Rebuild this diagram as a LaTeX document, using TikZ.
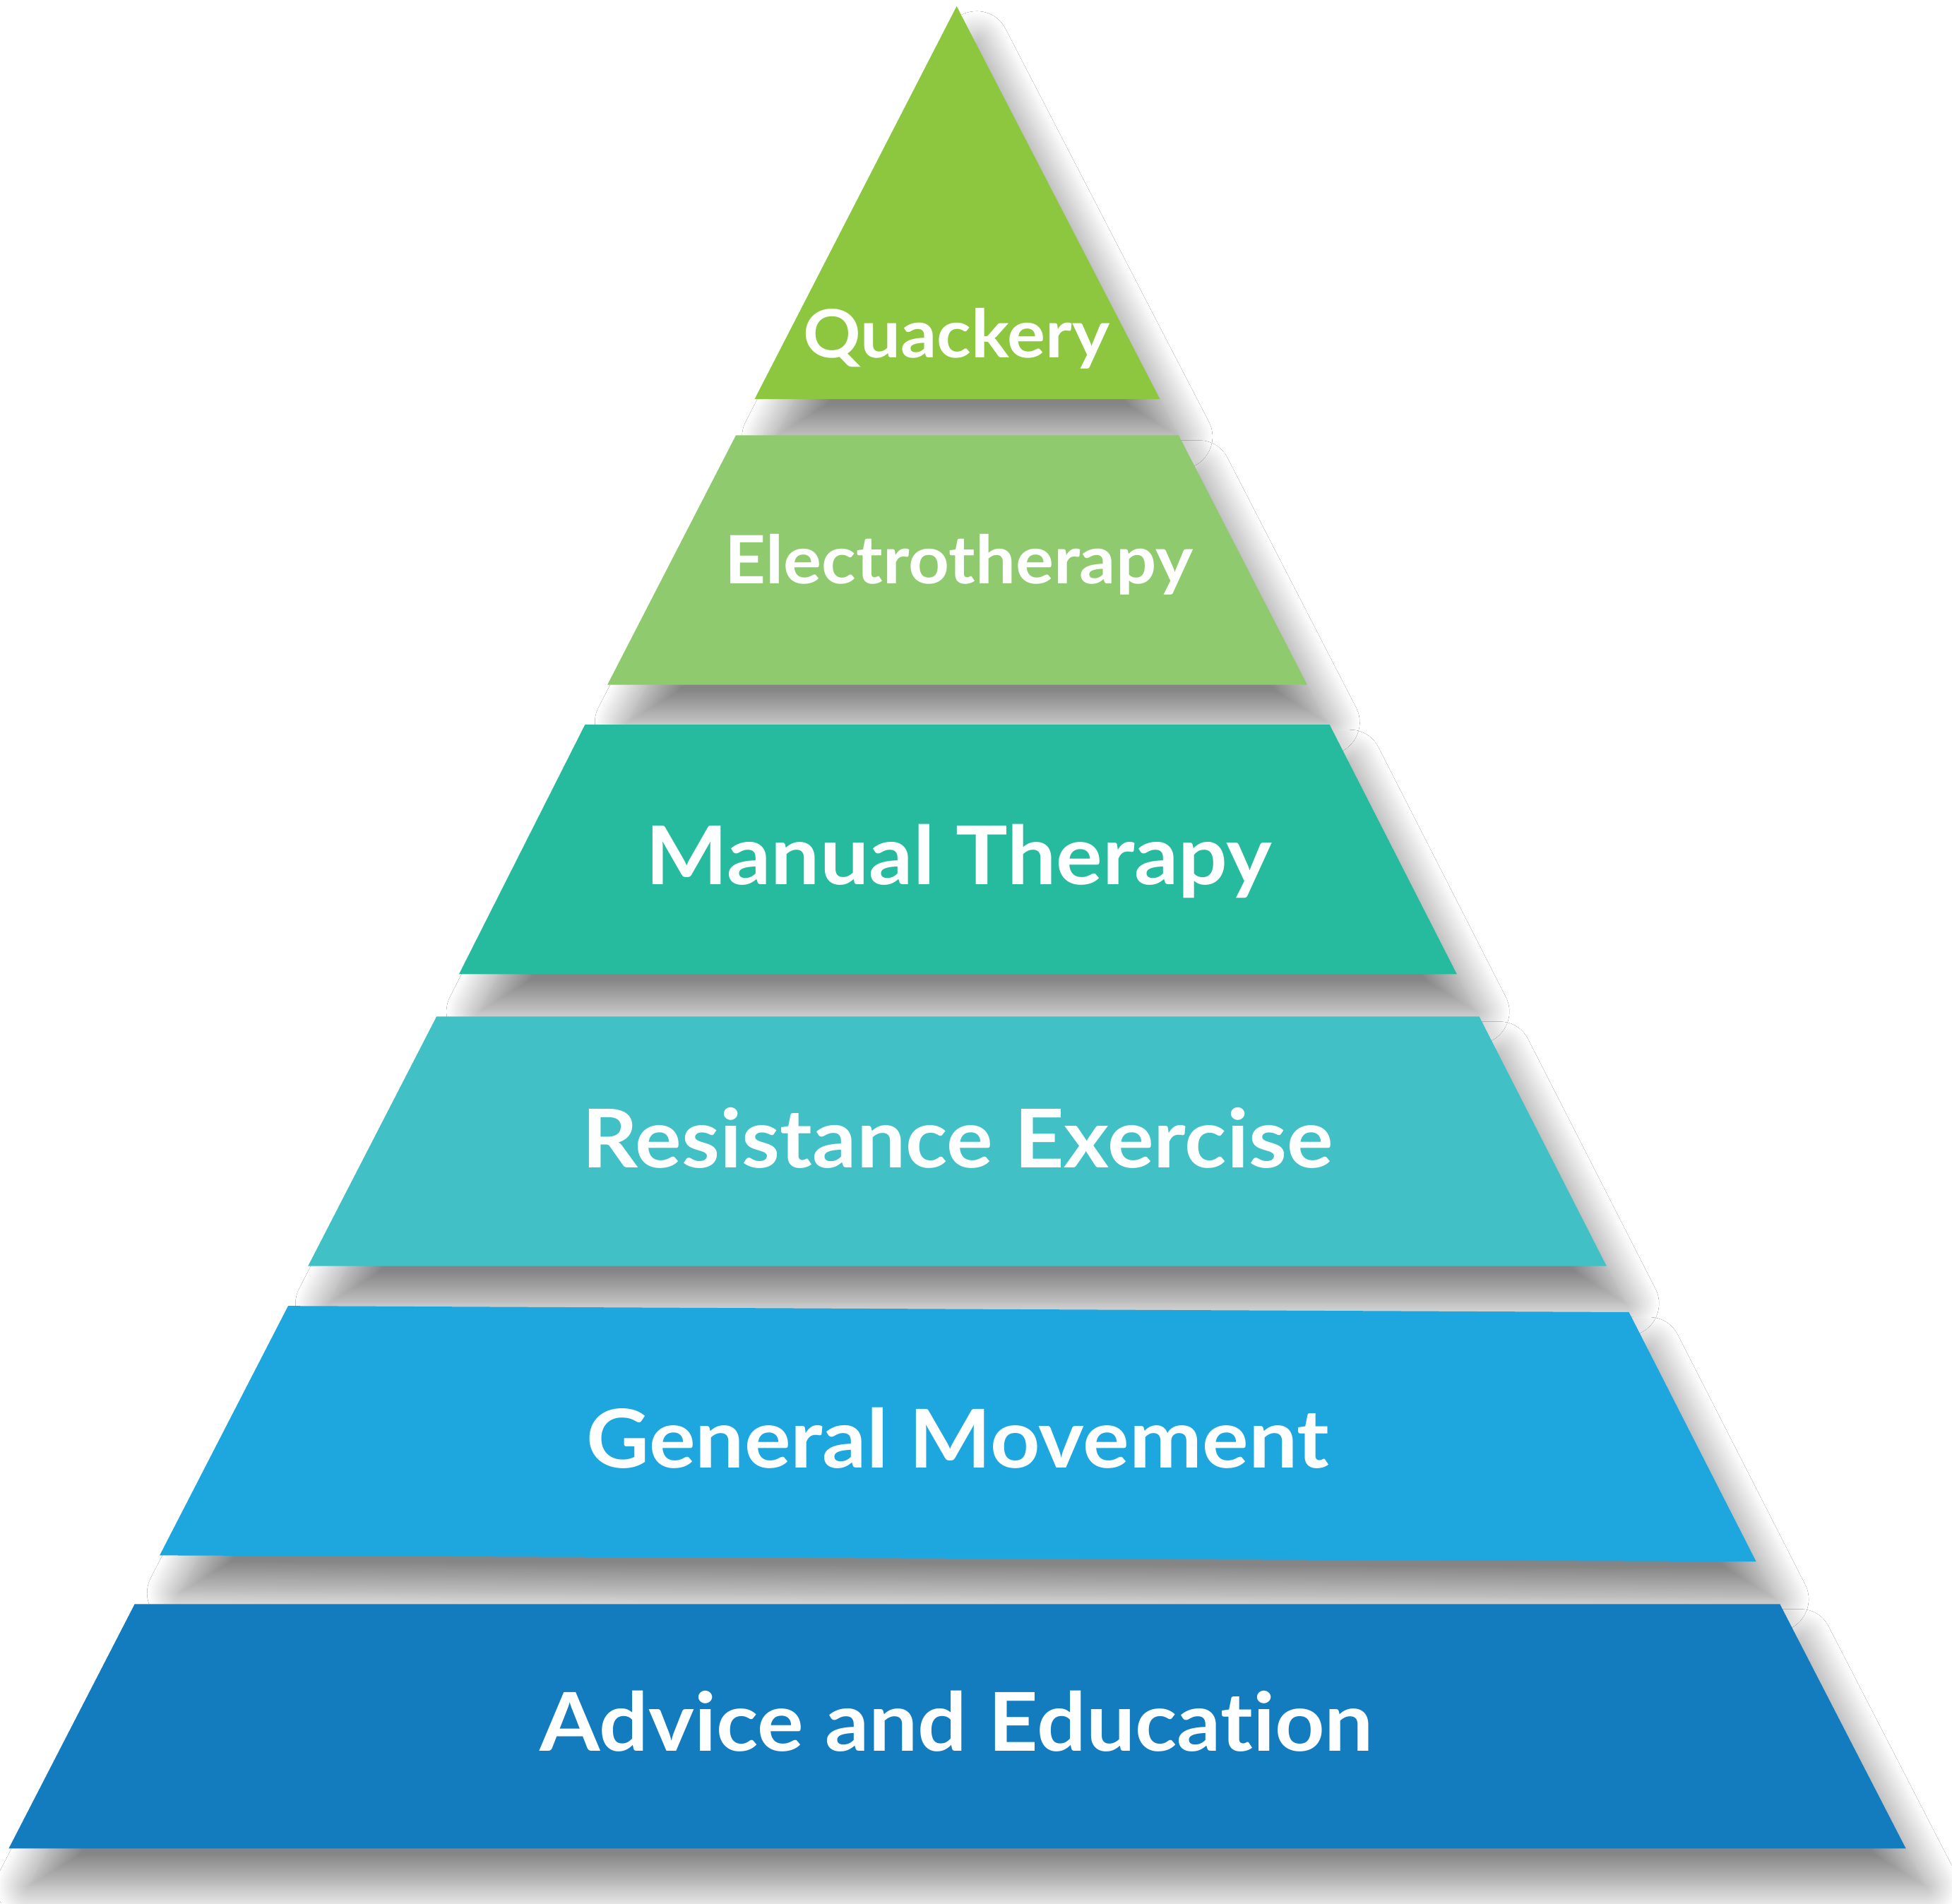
\documentclass[tikz,border=0pt]{standalone}
\usepackage{fontspec}
\setmainfont{Lato}
\newfontfamily\tierfont[FakeStretch=1.07, Ligatures=NoCommon]{Lato}
\usetikzlibrary{shadows, shadows.blur}

\definecolor{quackgreen}{HTML}{8DC63F}
\definecolor{electrogreen}{HTML}{8FCA6E}
\definecolor{manualteal}{HTML}{26BA9F}
\definecolor{resistteal}{HTML}{41C0C6}
\definecolor{movecyan}{HTML}{1EA7DE}
\definecolor{adviceblue}{HTML}{137CBF}

\tikzset{
  tier/.style={blur shadow={shadow xshift=1.6mm, shadow yshift=-3mm,
      shadow blur radius=2.6mm, shadow blur steps=24, shadow opacity=48}},
  biglabel/.style={text=white, anchor=base, inner sep=0pt,
      font=\tierfont\bfseries\fontsize{18.5}{18.5}\selectfont},
  smalllabel/.style={biglabel, font=\tierfont\bfseries\fontsize{15.2}{15.2}\selectfont}
}

\begin{document}
\begin{tikzpicture}[x=0.01cm, y=-0.01cm]
    \useasboundingbox (0,0) rectangle (1565,1526);
    \fill[white] (0,0) rectangle (1565,1526);
    % tiers, top to bottom
    \fill[quackgreen, tier] (767,5) -- (930,320) -- (605,320) -- cycle;
    \fill[electrogreen, tier] (590,349) -- (945,349) -- (1048,549) -- (487,549) -- cycle;
    \fill[manualteal, tier] (469,581) -- (1066,581) -- (1168,781) -- (368,781) -- cycle;
    \fill[resistteal, tier] (350,815) -- (1186,815) -- (1288,1015) -- (247,1015) -- cycle;
    \fill[movecyan, tier] (231,1047) -- (1306,1052) -- (1408,1252) -- (128,1247) -- cycle;
    \fill[adviceblue, tier] (108,1286) -- (1427,1286) -- (1528,1482) -- (7,1482) -- cycle;
    % labels
    \node[smalllabel] (quackery) at (767,287) {Quackery};
    \node[smalllabel] (electro) at (769,468) {Electrotherapy};
    \node[biglabel] (manual) at (769,709) {Manual Therapy};
    \node[biglabel] (resistance) at (768,936) {Resistance Exercise};
    \node[biglabel] (movement) at (768,1177) {General Movement};
    \node[biglabel] (advice) at (767,1404) {Advice and Education};
\end{tikzpicture}
\end{document}
